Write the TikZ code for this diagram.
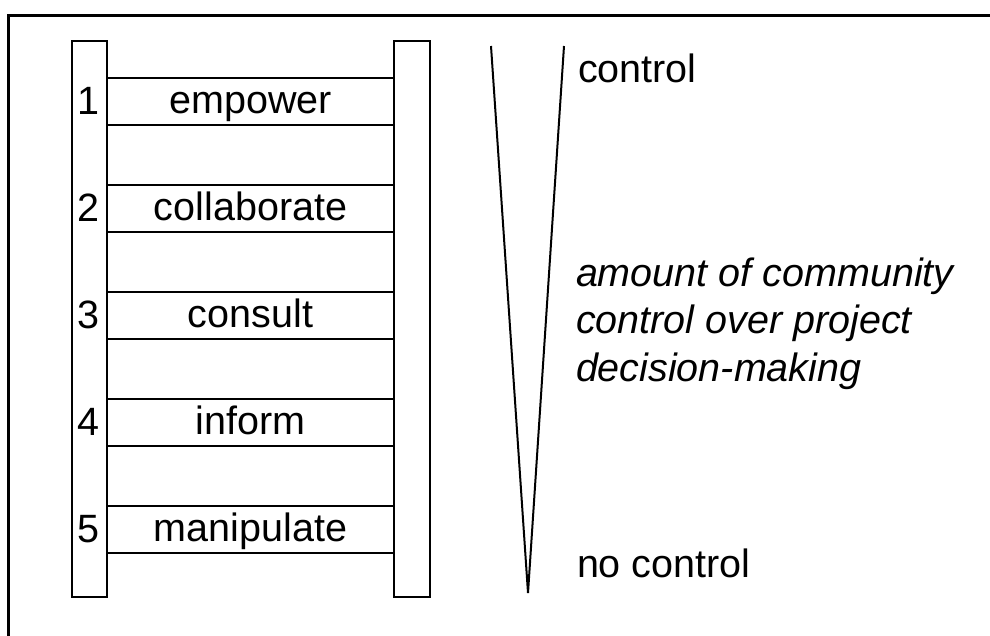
\documentclass[tikz,border=0pt]{standalone}
\usepackage{fontspec}
\setmainfont{Liberation Sans}
\usetikzlibrary{calc}
\begin{document}
\begin{tikzpicture}[x=1pt,y=-1pt,
  rail/.style={draw,line width=2.4pt,minimum width=35pt,minimum height=556pt,
               inner sep=0pt,outer sep=0pt},
  rung/.style={minimum width=287pt,minimum height=47pt,inner sep=0pt,outer sep=0pt},
  rungline/.style={line width=2.8pt},
  txt/.style={font=\fontsize{39.5}{47}\selectfont,inner sep=0pt,outer sep=0pt},
  note/.style={txt,font=\fontsize{39.5}{47}\selectfont\itshape},
  wedge/.style={line width=2pt,line join=miter}]
  \useasboundingbox (0,0) rectangle (990,635);
  \clip (0,0) rectangle (990,635);
  % frame (only its top and left edges fall inside the page)
  \draw[line width=3pt] (8,660) -- (8,15) -- (1010,15);

  % ladder rails
  \node[rail] (lrail) at (89.5,319) {};
  \node[rail,minimum width=36pt] (rrail) at (412,319) {};

  % rungs with their numbers and labels
  \foreach \i/\lab in {1/empower,2/collaborate,3/consult,4/inform,5/manipulate}{
    \node[rung] (rung\i) at (250.5,{101.5+107*(\i-1)}) {};
    \draw[rungline] (rung\i.north west) -- (rung\i.north east)
                    (rung\i.south west) -- (rung\i.south east);
    \node[txt,anchor=base] (lab\i) at ($(rung\i.center)+(0,12)$) {\lab};
    \node[txt,anchor=base] (num\i) at ($(lrail.center |- rung\i.center)+(-1,13)$) {\i};
  }

  % narrowing wedge
  \coordinate (wl) at (491,46);
  \coordinate (wr) at (564,46);
  \coordinate (apex) at (528,593);
  \draw[wedge] (wl) -- (apex) -- (wr);

  % wedge labels
  \node[txt,anchor=base west] (top) at (578,82) {control};
  \node[txt,anchor=base west] (bottom) at (577,577) {no control};
  \node[note,anchor=base west] (d1) at (576,286) {amount of community};
  \node[note,anchor=base west] (d2) at (576,333) {control over project};
  \node[note,anchor=base west] (d3) at (576,381) {decision-making};
\end{tikzpicture}
\end{document}
